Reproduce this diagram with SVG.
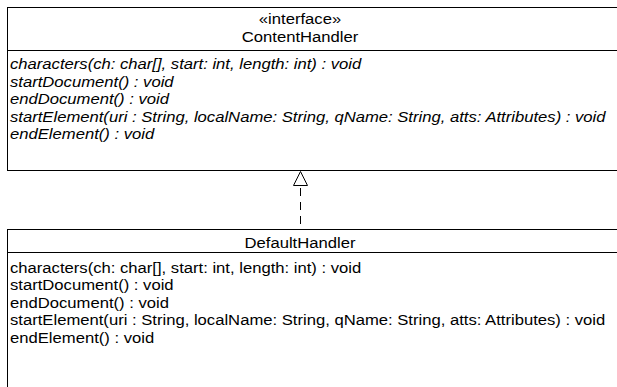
<svg xmlns="http://www.w3.org/2000/svg" width="617" height="387" viewBox="0 0 617 387">
<style>
.box{fill:#fff;stroke:#000;stroke-width:1}
.t{font-family:"Liberation Sans",Arial,sans-serif;font-size:15px;fill:#000}
.i{font-style:italic}
.c{text-anchor:middle}
.conn{stroke:#000;stroke-width:1;fill:none}
</style>
<rect width="617" height="387" fill="#fff"/>
<g id="ContentHandler">
<rect class="box" x="7.5" y="7.5" width="620" height="163"/>
<line class="conn" x1="7.5" y1="50.5" x2="627" y2="50.5"/>
<g transform="translate(300,0) scale(1.11,1)">
<text class="t c" x="0" y="24">«interface»</text>
<text class="t c" x="0" y="42">ContentHandler</text>
</g>
<g transform="translate(10,0) scale(1.11,1)">
<text class="t i" x="0" y="69.5">characters(ch: char[], start: int, length: int) : void</text>
<text class="t i" x="0" y="87">startDocument() : void</text>
<text class="t i" x="0" y="104.5">endDocument() : void</text>
<text class="t i" x="0" y="122">startElement(uri : String, localName: String, qName: String, atts: Attributes) : void</text>
<text class="t i" x="0" y="139.5">endElement() : void</text>
</g>
</g>
<g id="DefaultHandler">
<rect class="box" x="7.5" y="229.5" width="620" height="170"/>
<line class="conn" x1="7.5" y1="252.5" x2="627" y2="252.5"/>
<g transform="translate(300,0) scale(1.11,1)">
<text class="t c" x="0" y="248">DefaultHandler</text>
</g>
<g transform="translate(10,0) scale(1.11,1)">
<text class="t" x="0" y="273">characters(ch: char[], start: int, length: int) : void</text>
<text class="t" x="0" y="290.5">startDocument() : void</text>
<text class="t" x="0" y="308">endDocument() : void</text>
<text class="t" x="0" y="325.5">startElement(uri : String, localName: String, qName: String, atts: Attributes) : void</text>
<text class="t" x="0" y="343">endElement() : void</text>
</g>
</g>
<g id="connectors">
<line class="conn" x1="300.5" y1="188" x2="300.5" y2="229" stroke-dasharray="8,6"/>
<polygon class="box" points="300.5,171.5 293.5,185.5 307.5,185.5"/>
</g>
</svg>
